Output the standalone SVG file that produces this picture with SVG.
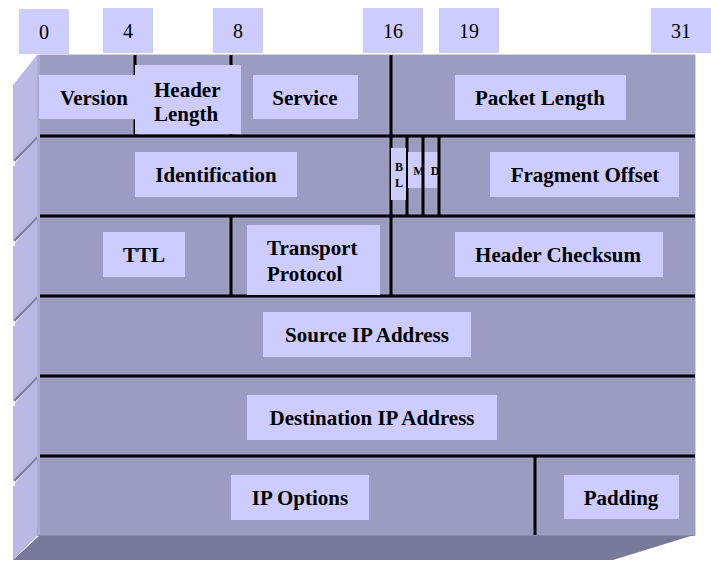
<svg xmlns="http://www.w3.org/2000/svg" width="711" height="562" viewBox="0 0 711 562">
  <style>
    .face { fill: #9c9cc3; }
    .side { fill: #b9b9e3; }
    .base { fill: #79799a; }
    .bevel { fill: #7d7da6; }
    .gap { fill: #ffffff; }
    .box { fill: #ccccff; }
    .rule { stroke: #000000; stroke-width: 3; fill: none; }
    .bit { font-family: "Liberation Serif", "Times New Roman", serif; font-size: 20px; fill: #000; text-anchor: middle; }
    .lbl { font-family: "Liberation Serif", "Times New Roman", serif; font-size: 21px; font-weight: bold; fill: #000; text-anchor: middle; }
    .lbl-l { font-family: "Liberation Serif", "Times New Roman", serif; font-size: 21px; font-weight: bold; fill: #000; }
    .flag { font-family: "Liberation Serif", "Times New Roman", serif; font-size: 12px; font-weight: bold; fill: #000; text-anchor: middle; }
  </style>

  <!-- bit position markers -->
  <g id="bit-scale">
    <rect class="box" x="19" y="9" width="50" height="45"/>
    <text class="bit" x="44" y="39">0</text>
    <rect class="box" x="103" y="8" width="50" height="45"/>
    <text class="bit" x="128" y="38">4</text>
    <rect class="box" x="213" y="8" width="50" height="45"/>
    <text class="bit" x="238" y="38">8</text>
    <rect class="box" x="363" y="8" width="60" height="45"/>
    <text class="bit" x="393" y="38">16</text>
    <rect class="box" x="439" y="8" width="60" height="45"/>
    <text class="bit" x="469" y="38">19</text>
    <rect class="box" x="651" y="8" width="60" height="45"/>
    <text class="bit" x="681" y="38">31</text>
  </g>

  <!-- slab body: front face, bevelled left side, bottom -->
  <g id="slab">
    <rect class="face" x="40" y="55" width="655" height="481"/>
    <path d="M40 54.5 H695.5 V536" fill="none" stroke="#d4d4de" stroke-width="1"/>
    <rect x="37" y="55" width="3" height="481" fill="#a9a9d4"/>
    <!-- left side segments, one per row -->
    <polygon class="side" points="13,85 37,55 37,136 13,160"/>
    <polygon class="side" points="13,166 37,137 37,216 13,240"/>
    <polygon class="side" points="13,246 37,217 37,296 13,320"/>
    <polygon class="side" points="13,326 37,297 37,376 13,400"/>
    <polygon class="side" points="13,406 37,377 37,456 13,480"/>
    <polygon class="side" points="13,486 37,457 37,536 13,560"/>
    <!-- bevel shadows between segments -->
    <polygon class="bevel" points="13,160 37,136 37,139 15,162"/>
    <polygon class="bevel" points="13,240 37,216 37,219 15,242"/>
    <polygon class="bevel" points="13,320 37,296 37,299 15,322"/>
    <polygon class="bevel" points="13,400 37,376 37,379 15,402"/>
    <polygon class="bevel" points="13,480 37,456 37,459 15,482"/>
    <polygon class="gap" points="13,161 15,161 15,166 13,166"/>
    <polygon class="gap" points="13,241 15,241 15,246 13,246"/>
    <polygon class="gap" points="13,321 15,321 15,326 13,326"/>
    <polygon class="gap" points="13,401 15,401 15,406 13,406"/>
    <polygon class="gap" points="13,481 15,481 15,486 13,486"/>
    <polygon class="base" points="40,535 694,535 613,560 13,560"/>
    <line x1="40" y1="535.5" x2="694" y2="535.5" stroke="#8a8aac" stroke-width="1"/>
  </g>

  <!-- field boundaries -->
  <g id="connectors">
    <line class="rule" x1="40" y1="136" x2="695" y2="136"/>
    <line class="rule" x1="40" y1="216" x2="695" y2="216"/>
    <line class="rule" x1="40" y1="296" x2="695" y2="296"/>
    <line class="rule" x1="40" y1="376" x2="695" y2="376"/>
    <line class="rule" x1="40" y1="456" x2="695" y2="456"/>
    <line class="rule" x1="135" y1="55" x2="135" y2="136"/>
    <line class="rule" x1="231" y1="55" x2="231" y2="136"/>
    <line class="rule" x1="391" y1="55" x2="391" y2="296"/>
    <line class="rule" x1="407" y1="136" x2="407" y2="216"/>
    <line class="rule" x1="231" y1="216" x2="231" y2="296"/>
    <line class="rule" x1="535" y1="456" x2="535" y2="535"/>
  </g>

  <g id="version">
    <rect class="box" x="39" y="75" width="97" height="44"/>
    <text class="lbl" x="94" y="105">Version</text>
  </g>
  <g id="header-length">
    <rect class="box" x="135" y="65" width="106" height="69"/>
    <text class="lbl-l" x="154" y="97">Header</text>
    <text class="lbl-l" x="154" y="121">Length</text>
  </g>
  <g id="service">
    <rect class="box" x="253" y="75" width="105" height="44"/>
    <text class="lbl" x="305" y="105">Service</text>
  </g>
  <g id="packet-length">
    <rect class="box" x="455" y="75" width="171" height="45"/>
    <text class="lbl" x="540" y="105">Packet Length</text>
  </g>
  <g id="identification">
    <rect class="box" x="135" y="152" width="162" height="45"/>
    <text class="lbl" x="216" y="182">Identification</text>
  </g>
  <g id="flag-b">
    <rect class="box" x="391" y="148" width="15" height="52"/>
    <text class="flag" x="399" y="171">B</text>
    <text class="flag" x="399" y="187">L</text>
  </g>
  <g id="flag-m">
    <rect class="box" x="408" y="152" width="15" height="36"/>
    <text class="flag" x="419" y="175">M</text>
  </g>
  <g id="flag-d">
    <rect class="box" x="423" y="152" width="15" height="36"/>
    <text class="flag" x="435" y="175">D</text>
  </g>
  <g id="flag-rules">
    <line class="rule" x1="423" y1="136" x2="423" y2="216"/>
    <line class="rule" x1="439" y1="136" x2="439" y2="216"/>
  </g>
  <g id="fragment-offset">
    <rect class="box" x="490" y="152" width="189" height="45"/>
    <text class="lbl" x="585" y="182">Fragment Offset</text>
  </g>
  <g id="ttl">
    <rect class="box" x="103" y="232" width="82" height="45"/>
    <text class="lbl" x="144" y="262">TTL</text>
  </g>
  <g id="transport-protocol">
    <rect class="box" x="247" y="225" width="133" height="70"/>
    <text class="lbl-l" x="267" y="255">Transport</text>
    <text class="lbl-l" x="267" y="281">Protocol</text>
  </g>
  <g id="header-checksum">
    <rect class="box" x="455" y="232" width="208" height="45"/>
    <text class="lbl" x="558" y="262">Header Checksum</text>
  </g>
  <g id="source-ip">
    <rect class="box" x="263" y="312" width="208" height="45"/>
    <text class="lbl" x="367" y="342">Source IP Address</text>
  </g>
  <g id="destination-ip">
    <rect class="box" x="247" y="395" width="250" height="45"/>
    <text class="lbl" x="372" y="425">Destination IP Address</text>
  </g>
  <g id="ip-options">
    <rect class="box" x="231" y="475" width="138" height="45"/>
    <text class="lbl" x="300" y="505">IP Options</text>
  </g>
  <g id="padding">
    <rect class="box" x="564" y="475" width="115" height="44"/>
    <text class="lbl" x="621" y="505">Padding</text>
  </g>
</svg>
